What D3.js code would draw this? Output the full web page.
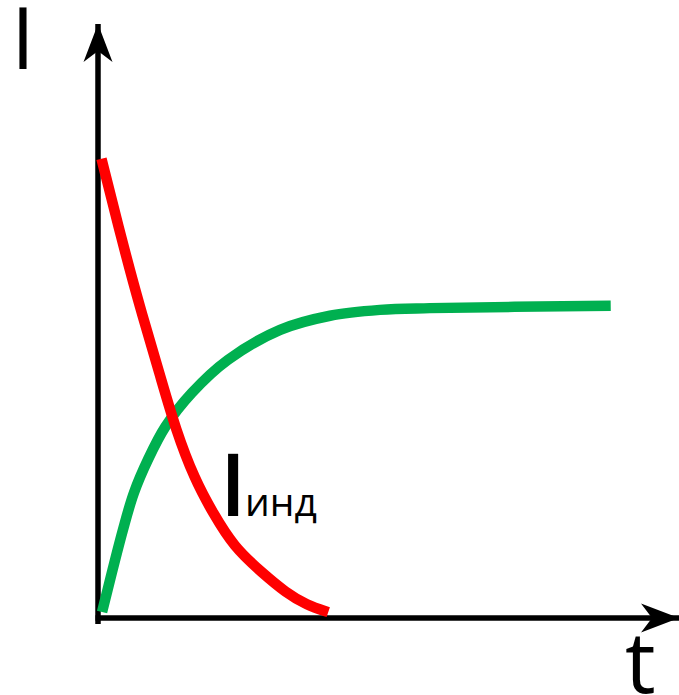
<!DOCTYPE html>
<html>
<head>
<meta charset="utf-8">
<script src="https://cdn.jsdelivr.net/npm/d3@7"></script>
<style>
  html, body { margin: 0; padding: 0; background: #fff; }
  svg { display: block; }
  text { font-family: "Open Sans", "Noto Sans", sans-serif; fill: #000; }
</style>
</head>
<body>
<svg id="chart" width="679" height="695"></svg>
<script>
// ---- data (domain units: t 0..100, I 0..100) ----
const redT = [0.6, 4.1, 7.2, 10.7, 13.4, 16.7, 19.8, 23.4, 28.3, 32.4, 36.0, 39.7];
const redI = [78.1, 64.3, 52.9, 41.3, 32.0, 23.5, 17.9, 12.1, 7.7, 4.3, 2.2, 1.0];
const greenT = [0.7, 4.3, 6.2, 8.6, 11.6, 16.2, 22.4, 31.4, 40.0, 48.6, 57.2, 88.4];
const greenI = [1.0, 15.0, 21.3, 26.9, 32.5, 38.3, 43.9, 49.0, 51.4, 52.4, 52.7, 53.1];
const yLabel = "I";
const xLabel = "t";
const curveLabelMain = "I";
const curveLabelSub = "инд";

const svg = d3.select("#chart");
const x = d3.scaleLinear().domain([0, 100]).range([98, 678]);
const y = d3.scaleLinear().domain([0, 100]).range([618, 30]);

// arrow markers
const defs = svg.append("defs");
defs.append("marker")
  .attr("id", "arrow")
  .attr("viewBox", "0 0 40 30")
  .attr("refX", 38).attr("refY", 15)
  .attr("markerUnits", "userSpaceOnUse")
  .attr("markerWidth", 40).attr("markerHeight", 30)
  .attr("orient", "auto")
  .append("path")
  .attr("d", "M0,0.5 L38,15 L0,29.5 L11,15 Z")
  .attr("fill", "#000");

// axes
svg.append("line")
  .attr("x1", x(0)).attr("y1", y(0) + 6)
  .attr("x2", x(0)).attr("y2", 24)
  .attr("stroke", "#000").attr("stroke-width", 5.5)
  .attr("marker-end", "url(#arrow)");
svg.append("line")
  .attr("x1", x(0) - 2.5).attr("y1", y(0))
  .attr("x2", 679).attr("y2", y(0))
  .attr("stroke", "#000").attr("stroke-width", 5.5)
  .attr("marker-end", "url(#arrow)");

const greenLine = d3.line()
  .x(d => x(d[0])).y(d => y(d[1]))
  .curve(d3.curveCatmullRom.alpha(0.5));
const redLine = d3.line()
  .x(d => x(d[0])).y(d => y(d[1]))
  .curve(d3.curveBasis);

svg.append("path")
  .datum(greenT.map((t, i) => [t, greenI[i]]))
  .attr("d", greenLine)
  .attr("fill", "none")
  .attr("stroke", "#00B050")
  .attr("stroke-width", 10.5);

svg.append("path")
  .datum(redT.map((t, i) => [t, redI[i]]))
  .attr("d", redLine)
  .attr("fill", "none")
  .attr("stroke", "#FF0000")
  .attr("stroke-width", 10.5);

// labels
svg.append("text").attr("x", 11).attr("y", 69)
  .attr("font-size", 86).text(yLabel);
svg.append("text").attr("x", 625).attr("y", 693)
  .attr("font-size", 86).text(xLabel);
svg.append("text").attr("x", 220).attr("y", 516)
  .attr("font-size", 86).attr("font-weight", 600).text(curveLabelMain);
svg.append("text").attr("x", 245).attr("y", 516)
  .attr("font-size", 39).text(curveLabelSub);
</script>
</body>
</html>
